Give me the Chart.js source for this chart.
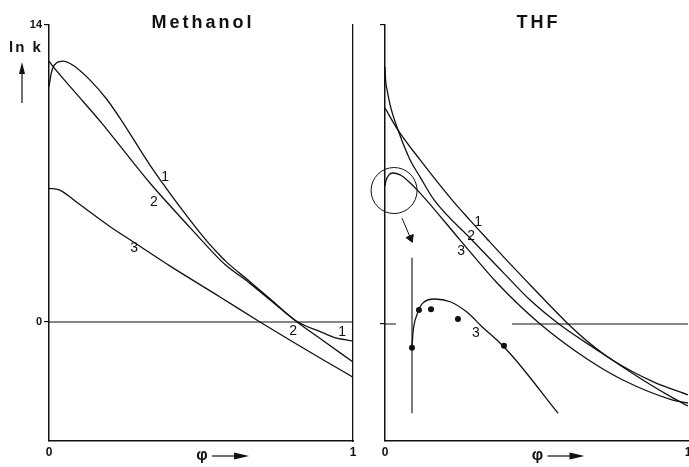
<!DOCTYPE html>
<html>
<head>
<meta charset="utf-8">
<script src="https://cdn.jsdelivr.net/npm/chart.js@4.4.1/dist/chart.umd.min.js"></script>
<style>
  html, body { margin: 0; padding: 0; background: #fff; overflow: hidden; }
  #wrap { position: relative; width: 689px; height: 467px; overflow: hidden; }
  canvas { position: absolute; top: 0; }
  #meth { left: 0; width: 365px; height: 467px; }
  #thf { left: 365px; width: 331px; height: 467px; }
</style>
</head>
<body>
<div id="wrap">
  <canvas id="meth" width="365" height="467"></canvas>
  <canvas id="thf" width="331" height="467"></canvas>
</div>
<script>
const ink = "#111";
const xTicks = [0, 1];
const yTicks = [0, 14];

// Methanol: phi vs ln k for curves 1, 2, 3
const phiM1 = [0, 0.007, 0.013, 0.025, 0.046, 0.079, 0.135, 0.19, 0.243, 0.332, 0.464, 0.52, 0.553, 0.58, 0.661, 0.727, 0.816, 0.90, 0.935, 1.0];
const lnkM1 = [11.1, 11.7, 12.0, 12.22, 12.3, 12.1, 11.4, 10.5, 9.4, 7.4, 4.8, 3.8, 3.28, 2.88, 1.9, 1.1, 0.02, -0.5, -0.71, -0.9];
const phiM2 = [0, 0.013, 0.079, 0.168, 0.332, 0.464, 0.553, 0.58, 0.661, 0.816, 0.908, 1.0];
const lnkM2 = [12.3, 12.05, 10.94, 9.47, 6.55, 4.45, 3.07, 2.7, 1.82, 0, -0.94, -1.89];
const phiM3 = [0, 0.035, 0.1, 0.2, 0.28, 0.4, 0.5625, 0.694, 0.8, 0.9, 1.0];
const lnkM3 = [6.3, 6.22, 5.55, 4.5, 3.75, 2.62, 1.18, 0, -0.92, -1.77, -2.6];

// THF: phi vs ln k for curves 1, 2, 3
const phiT1 = [0, 0.043, 0.116, 0.221, 0.281, 0.337, 0.389, 0.488, 0.601, 0.68, 0.752, 0.884, 1.0];
const lnkT1 = [10.11, 9.08, 7.68, 5.81, 4.85, 3.98, 3.18, 1.70, 0.05, -0.95, -1.7, -2.7, -3.32];
const phiT2 = [0, 0.002, 0.007, 0.017, 0.043, 0.083, 0.116, 0.162, 0.287, 0.389, 0.479, 0.574, 0.710, 0.851, 0.950, 1.0];
const lnkT2 = [12.03, 11.42, 10.96, 10.25, 9.08, 7.68, 6.88, 5.81, 3.93, 2.43, 1.12, 0, -1.31, -2.62, -3.46, -3.84];
const phiT3 = [0, 0.003, 0.013, 0.026, 0.050, 0.076, 0.116, 0.248, 0.370, 0.512, 0.667, 0.785, 0.950, 1.0];
const lnkT3 = [6.46, 6.70, 6.98, 7.07, 6.98, 6.70, 6.13, 3.93, 1.92, 0, -1.64, -2.62, -3.56, -3.70];

// THF zero line is broken where the inset sits
const phiZeroT = [0, 0.036, 0.2, 0.419, 1];
const lnkZeroT = [0, 0, null, 0, 0];

// enlarged inset of curve 3 (THF), fitted line and measured points
const phiIn = [0, 0.001, 0.005, 0.011, 0.023, 0.039, 0.056, 0.072, 0.087, 0.103, 0.149];
const lnkIn = [6.39, 6.61, 6.87, 7.04, 7.10, 7.06, 6.91, 6.69, 6.50, 6.26, 5.44];
const phiInPts = [0, 0.0071, 0.0194, 0.0469, 0.0939];
const lnkInPts = [6.39, 6.94, 6.95, 6.81, 6.42];
const inAxisPhi = [0, 0];
const inAxisLnk = [7.70, 5.44];
// zoom circle and pointer in THF coordinates
const circlePhi = [0.030];
const circleLnk = [6.25];
const pointerPhi = [0.056, 0.0842];
const pointerLnk = [4.96, 4.02];

// curve labels: phi, ln k, text (and scale ids)
const labelsM = [[0.382, 6.84, "1"], [0.345, 5.66, "2"], [0.280, 3.49, "3"], [0.803, -0.42, "2"], [0.964, -0.47, "1"]];
const labelsT = [[0.307, 4.78, "1"], [0.284, 4.12, "2"], [0.251, 3.42, "3"], [0.0653, 6.61, "3", "xi", "yi"]];

const pts = (xs, ys) => xs.map((x, i) => ({ x, y: ys[i] }));
const curve = (xs, ys, extra = {}) => ({
  data: pts(xs, ys), borderColor: ink, borderWidth: 1.3, pointRadius: 0,
  cubicInterpolationMode: "monotone", fill: false, ...extra,
});

const tickFont = { family: "Liberation Sans", size: 12, weight: "bold" };

function arrowHead(ctx, tipX, tipY, dx, dy, len, half) {
  ctx.beginPath();
  ctx.moveTo(tipX, tipY);
  ctx.lineTo(tipX - dx * len - dy * half, tipY - dy * len + dx * half);
  ctx.lineTo(tipX - dx * len + dy * half, tipY - dy * len - dx * half);
  ctx.closePath();
  ctx.fill();
}

const decor = {
  id: "decor",
  afterDatasetsDraw(chart, args, opts) {
    const { ctx, chartArea: a, scales } = chart;
    const cx = (a.left + a.right) / 2;
    ctx.save();
    ctx.fillStyle = ink;
    ctx.strokeStyle = ink;
    ctx.lineWidth = 1.2;
    ctx.textAlign = "center";

    ctx.font = 'bold 18px "Liberation Sans"';
    ctx.letterSpacing = "3px";
    ctx.textBaseline = "alphabetic";
    ctx.fillText(opts.title, cx + 2, 28);
    ctx.letterSpacing = "0px";

    ctx.font = '14px "Liberation Sans"';
    ctx.textBaseline = "middle";
    opts.labels.forEach(([x, y, t, xs = "x", ys = "y"]) => {
      ctx.fillText(t, scales[xs].getPixelForValue(x), scales[ys].getPixelForValue(y));
    });

    // phi ->
    const by = a.bottom + 15;
    ctx.font = 'bold 16px "Liberation Sans"';
    ctx.fillText("φ", cx + 1, by);
    ctx.beginPath();
    ctx.moveTo(cx + 11, by);
    ctx.lineTo(cx + 34, by);
    ctx.stroke();
    arrowHead(ctx, cx + 48, by, 1, 0, 15, 3.5);

    if (opts.yLabel) {
      ctx.font = 'bold 15px "Liberation Sans"';
      ctx.letterSpacing = "2px";
      ctx.fillText(opts.yLabel, 26, 48);
      ctx.letterSpacing = "0px";
      ctx.beginPath();
      ctx.moveTo(22, 103);
      ctx.lineTo(22, 72);
      ctx.stroke();
      arrowHead(ctx, 22, 62, 0, -1, 12, 3);
    }
    ctx.restore();
  },
};

const yAxis = (min, width, labels) => ({
  type: "linear", min, max: 14,
  afterBuildTicks: s => { s.ticks = yTicks.map(v => ({ value: v })); },
  afterFit: s => { s.width = width; },
  grid: { drawOnChartArea: false, drawTicks: true, tickLength: 5, color: ink, lineWidth: 1.2 },
  border: { color: ink, width: 1.5 },
  ticks: { display: labels, color: ink, padding: 2, font: { ...tickFont, size: 11 } },
});
const xAxis = () => ({
  type: "linear", min: 0, max: 1,
  afterBuildTicks: s => { s.ticks = xTicks.map(v => ({ value: v })); },
  afterFit: s => { s.height = 26; },
  grid: { display: false, drawTicks: false },
  border: { color: ink, width: 1.5 },
  ticks: { color: ink, padding: 4, maxRotation: 0, font: tickFont },
});

const common = {
  responsive: false,
  animation: false,
  events: [],
  plugins: { legend: { display: false }, tooltip: { enabled: false }, title: { display: false } },
};

new Chart(document.getElementById("meth"), {
  type: "line",
  data: {
    datasets: [
      curve([0, 1], [0, 0], { borderWidth: 1.1, cubicInterpolationMode: "default", tension: 0 }),
      curve(phiM1, lnkM1),
      curve(phiM2, lnkM2),
      curve(phiM3, lnkM3),
    ],
  },
  options: {
    ...common,
    layout: { autoPadding: false, padding: { top: 25, right: 12, bottom: 0, left: 0 } },
    scales: {
      x: xAxis(),
      y: yAxis(-5.61, 49, true),
      yr: {
        type: "linear", position: "right", min: -5.61, max: 14,
        afterFit: s => { s.width = 0; },
        grid: { display: false }, ticks: { display: false },
        border: { color: ink, width: 1.3 },
      },
    },
    plugins: { ...common.plugins, decor: { title: "Methanol", labels: labelsM, yLabel: "ln k" } },
  },
  plugins: [decor],
});

// inset scale bounds: inset phi 0 sits 27 px right of the THF axis
const inXMin = -0.02755, inXMax = 0.28163;
const inYMin = 5.036, inYMax = 11.083;

new Chart(document.getElementById("thf"), {
  type: "line",
  data: {
    datasets: [
      curve(phiZeroT, lnkZeroT, { borderWidth: 1.1, cubicInterpolationMode: "default", tension: 0, spanGaps: false }),
      curve(phiT1, lnkT1),
      curve(phiT2, lnkT2),
      curve(phiT3, lnkT3),
      curve(circlePhi, circleLnk, { showLine: false, pointRadius: 23, pointStyle: "circle",
        pointBorderColor: ink, pointBorderWidth: 1, pointBackgroundColor: "rgba(0,0,0,0)", clip: false }),
      curve(pointerPhi, pointerLnk, { borderWidth: 1, tension: 0, cubicInterpolationMode: "default",
        pointRadius: [0, 4.5], pointStyle: "triangle", pointRotation: [0, 157],
        pointBackgroundColor: ink, pointBorderColor: ink, pointBorderWidth: 1 }),
      curve(inAxisPhi, inAxisLnk, { xAxisID: "xi", yAxisID: "yi", borderWidth: 1.1, tension: 0, cubicInterpolationMode: "default" }),
      curve(phiIn, lnkIn, { xAxisID: "xi", yAxisID: "yi" }),
      curve(phiInPts, lnkInPts, { xAxisID: "xi", yAxisID: "yi", showLine: false, pointRadius: 3,
        pointBackgroundColor: ink, pointBorderColor: ink, pointBorderWidth: 0 }),
    ],
  },
  options: {
    ...common,
    layout: { autoPadding: false, padding: { top: 25, right: 8, bottom: 0, left: 0 } },
    scales: {
      x: xAxis(),
      y: yAxis(-5.478, 20, false),
      xi: { type: "linear", display: false, min: inXMin, max: inXMax },
      yi: { type: "linear", display: false, min: inYMin, max: inYMax },
    },
    plugins: { ...common.plugins, decor: { title: "THF", labels: labelsT } },
  },
  plugins: [decor],
});
</script>
</body>
</html>
